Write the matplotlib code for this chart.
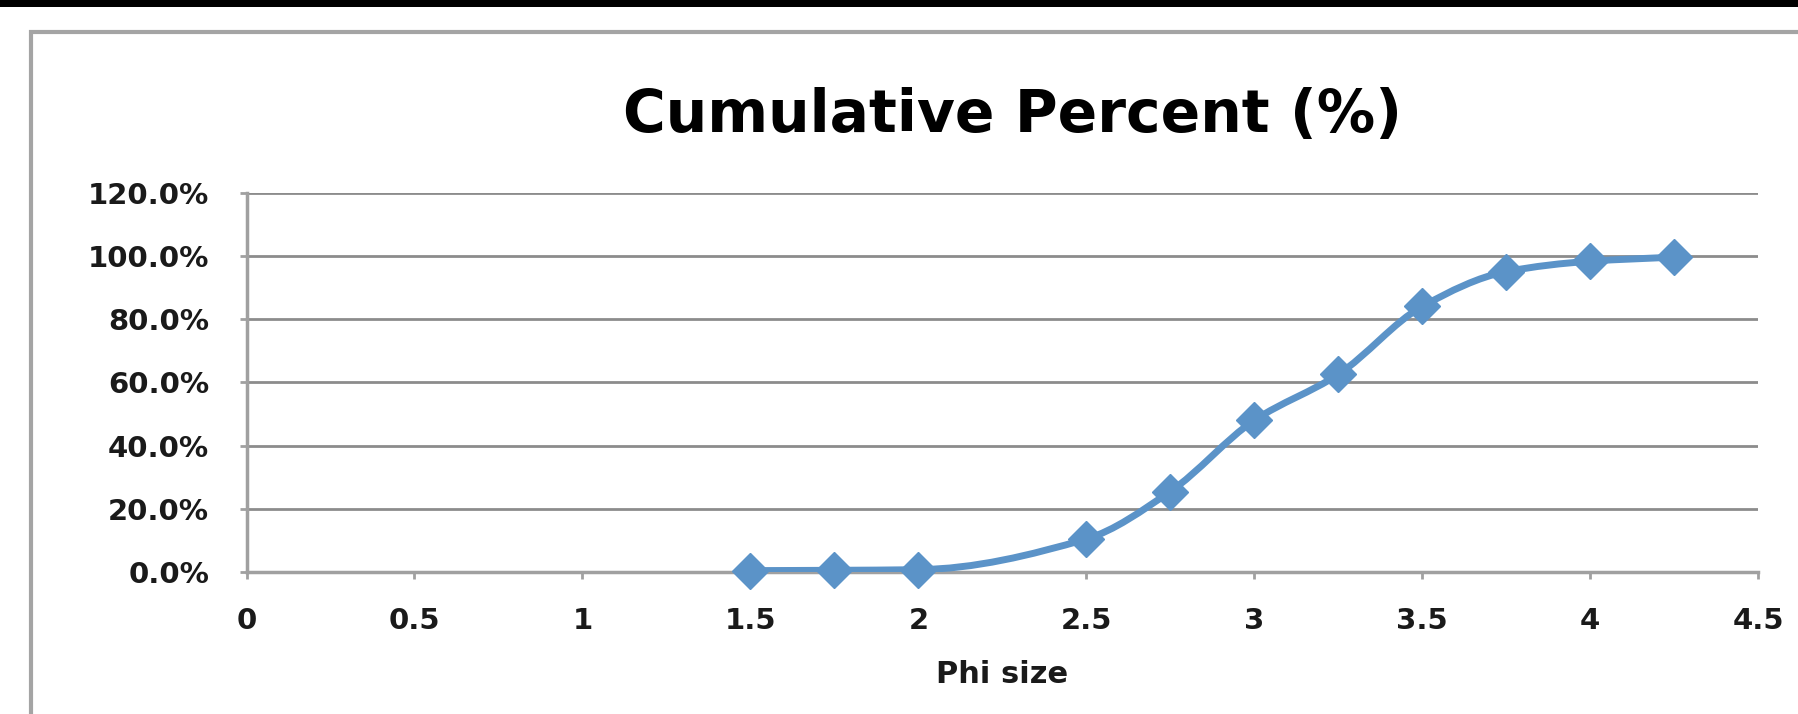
import matplotlib
matplotlib.use("Agg")
import matplotlib.pyplot as plt
from matplotlib.path import Path
from matplotlib.patches import PathPatch, Rectangle
from matplotlib.ticker import PercentFormatter

# sieve results: phi size vs cumulative percent retained
phi_size = [1.5, 1.75, 2.0, 2.5, 2.75, 3.0, 3.25, 3.5, 3.75, 4.0, 4.25]
cum_percent = [0.5, 0.6, 0.8, 10.5, 25.5, 48.0, 62.5, 84.0, 95.0, 98.3, 99.6]

x_ticks = [0, 0.5, 1, 1.5, 2, 2.5, 3, 3.5, 4, 4.5]
y_ticks = [0, 20, 40, 60, 80, 100, 120]

LINE_BLUE = "#5b93c8"
GRID_GREY = "#8c8c8c"
FONT = "DejaVu Sans"


def smooth_path(xs, ys):
    """Monotone cubic (Fritsch-Carlson) through the points, as Bezier segments."""
    n = len(xs)
    h = [xs[i + 1] - xs[i] for i in range(n - 1)]
    d = [(ys[i + 1] - ys[i]) / h[i] for i in range(n - 1)]
    m = [0.0] * n
    m[0], m[-1] = d[0], d[-1]
    for i in range(1, n - 1):
        if d[i - 1] * d[i] <= 0:
            m[i] = 0.0
        else:
            w1 = 2 * h[i] + h[i - 1]
            w2 = h[i] + 2 * h[i - 1]
            m[i] = (w1 + w2) / (w1 / d[i - 1] + w2 / d[i])
    verts = [(xs[0], ys[0])]
    codes = [Path.MOVETO]
    for i in range(n - 1):
        t = h[i] / 3
        verts += [(xs[i] + t, ys[i] + m[i] * t),
                  (xs[i + 1] - t, ys[i + 1] - m[i + 1] * t),
                  (xs[i + 1], ys[i + 1])]
        codes += [Path.CURVE4] * 3
    return Path(verts, codes)


fig = plt.figure(figsize=(17.98, 7.14), dpi=100, facecolor="white")

# dark strip along the top and the chart frame
fig.patches.append(Rectangle((0, 0.99), 1, 0.02, transform=fig.transFigure,
                             facecolor="black", edgecolor="none", zorder=0))
fig.patches.append(Rectangle((31 / 1798, -0.1), 1.1, 0.1 + (714 - 32) / 714,
                             transform=fig.transFigure, facecolor="none",
                             edgecolor="#a4a4a4", linewidth=3, zorder=1))

ax = fig.add_axes([0.1371, 0.1986, 0.8407, 0.5317])
ax.set_xlim(0, 4.5)
ax.set_ylim(0, 120)
ax.set_xticks(x_ticks)
ax.set_xticklabels([f"{t:g}" for t in x_ticks])
ax.set_yticks(y_ticks)
ax.yaxis.set_major_formatter(PercentFormatter(decimals=1))

ax.grid(axis="y", color=GRID_GREY, linewidth=2)
ax.set_axisbelow(True)
for side in ("top", "right"):
    ax.spines[side].set_visible(False)
for side in ("left", "bottom"):
    ax.spines[side].set_color("#a0a0a0")
    ax.spines[side].set_linewidth(2.5)

ax.tick_params(axis="x", direction="out", length=5, width=2, color="#a0a0a0",
               pad=20, labelsize=21)
ax.tick_params(axis="y", direction="out", length=5, width=2, color="#a0a0a0",
               pad=22, labelsize=21)
for lab in ax.get_xticklabels() + ax.get_yticklabels():
    lab.set_fontfamily(FONT)
    lab.set_fontweight("bold")
    lab.set_color("#1a1a1a")

ax.add_patch(PathPatch(smooth_path(phi_size, cum_percent), facecolor="none",
                       edgecolor=LINE_BLUE, linewidth=5, zorder=3,
                       capstyle="round", joinstyle="round"))
ax.plot(phi_size, cum_percent, linestyle="none", marker="D", markersize=18,
        color=LINE_BLUE, zorder=4, clip_on=False)

ax.set_xlabel("Phi size", fontfamily=FONT, fontweight="bold",
              fontsize=22, labelpad=18, color="#1a1a1a")
fig.text(0.563, 0.838, "Cumulative Percent (%)", ha="center", va="center",
         fontfamily=FONT, fontweight="bold", fontsize=42)

fig.savefig("out.png", dpi=100, facecolor="white")
